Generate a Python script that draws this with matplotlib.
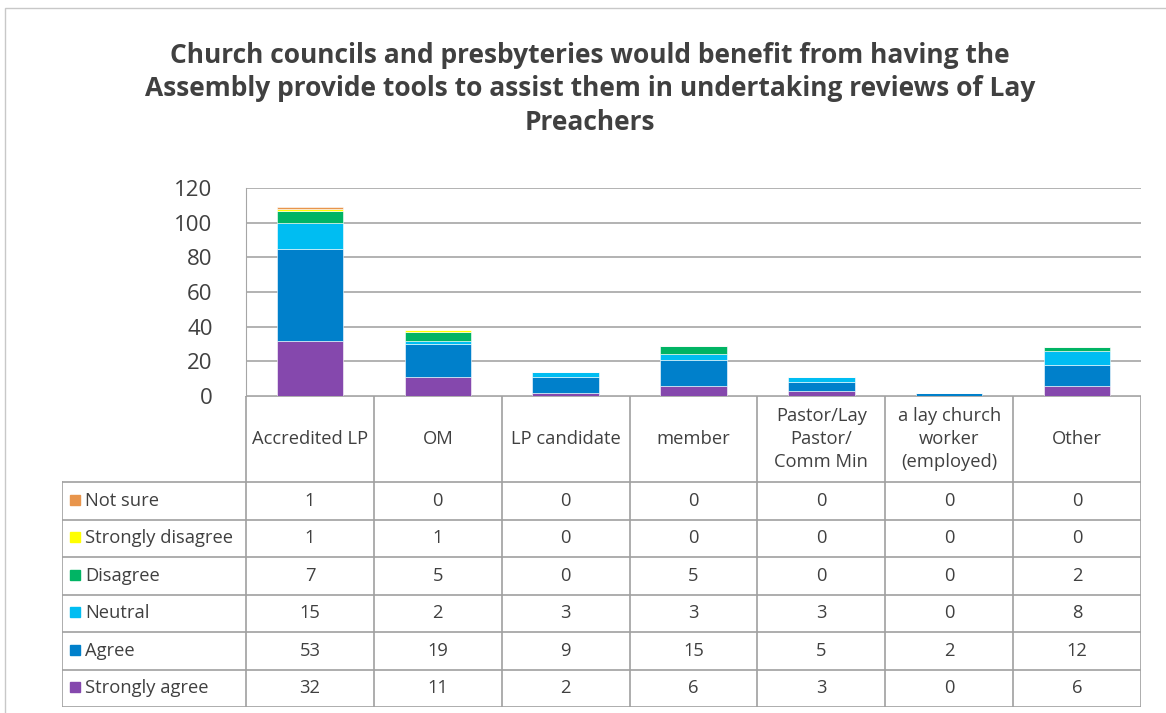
import matplotlib.pyplot as plt
import numpy as np

plt.rcParams['font.family'] = ['Open Sans', 'DejaVu Sans']

categories = ['Accredited LP', 'OM', 'LP candidate', 'member',
              'Pastor/Lay\nPastor/\nComm Min', 'a lay church\nworker\n(employed)', 'Other']
# stacked bottom to top
series = ['Strongly agree', 'Agree', 'Neutral', 'Disagree', 'Strongly disagree', 'Not sure']
strongly_agree = [32, 11, 2, 6, 3, 0, 6]
agree = [53, 19, 9, 15, 5, 2, 12]
neutral = [15, 2, 3, 3, 3, 0, 8]
disagree = [7, 5, 0, 5, 0, 0, 2]
strongly_disagree = [1, 1, 0, 0, 0, 0, 0]
not_sure = [1, 0, 0, 0, 0, 0, 0]
values = [strongly_agree, agree, neutral, disagree, strongly_disagree, not_sure]
colors = ['#8548ad', '#0080cb', '#00bdf2', '#00b464', '#ffff00', '#e8954c']

W, H = 1166, 713
fig = plt.figure(figsize=(W / 100, H / 100), dpi=100)

# outer chart border
fig.patches.append(plt.Rectangle((5 / W, -0.1), 1.2, (H - 8) / H + 0.1, transform=fig.transFigure,
                                 fill=False, edgecolor='#c8c8c8', linewidth=1))

fig.text(590 / W, 1 - 89 / H, 'Church councils and presbyteries would benefit from having the\n'
         'Assembly provide tools to assist them in undertaking reviews of Lay\nPreachers',
         ha='center', va='center', fontsize=19, fontweight='bold', color='#404040',
         linespacing=1.3)

x0, x1, ytop, ybot = 246, 1141, 188, 396
ax = fig.add_axes([x0 / W, 1 - ybot / H, (x1 - x0) / W, (ybot - ytop) / H])
x = np.arange(len(categories))
bottom = np.zeros(len(categories))
for vals, c in zip(values, colors):
    ax.bar(x, vals, 0.52, bottom=bottom, color=c, edgecolor='white', linewidth=0.4, zorder=3)
    bottom += np.array(vals)
ax.set_xlim(-0.5, len(categories) - 0.5)
ax.set_ylim(0, 120)
ax.set_yticks(range(0, 121, 20))
ax.yaxis.grid(True, color='#a6a6a6', linewidth=1.2)
ax.set_axisbelow(True)
for s in ['top', 'right', 'bottom']:
    ax.spines[s].set_visible(False)
ax.spines['left'].set_color('#a6a6a6')
ax.tick_params(axis='y', length=0, labelsize=16, labelcolor='#404040', pad=24)
ax.set_xticks([])

# data table below the plot
col_w = (x1 - x0) / len(categories)
tab_left = 62
tax = fig.add_axes([tab_left / W, 1 - 707 / H, (x1 - tab_left) / W, (707 - ybot) / H])
tax.set_xlim(-0.5 - (x0 - tab_left) / col_w, len(categories) - 0.5)
tax.set_ylim(707, ybot)
tax.axis('off')
lc = '#a0a0a0'
row_edges = np.linspace(482, 707, 7)
# header row
tax.plot([-0.5, len(categories) - 0.5], [ybot, ybot], color=lc, lw=1.2)
for i in range(len(categories) + 1):
    tax.plot([i - 0.5, i - 0.5], [ybot, 707], color=lc, lw=1.2)
left_x = -0.5 - (x0 - tab_left) / col_w
tax.plot([left_x, left_x], [482, 707], color=lc, lw=1.2)
for y in row_edges:
    tax.plot([left_x, len(categories) - 0.5], [y, y], color=lc, lw=1.2)
for i, cat in enumerate(categories):
    tax.text(i, (ybot + 482) / 2, cat, ha='center', va='center', fontsize=13.2,
             color='#404040', linespacing=1.35)
# rows top to bottom
for r, (name, vals, c) in enumerate(zip(series[::-1], values[::-1], colors[::-1])):
    yc = (row_edges[r] + row_edges[r + 1]) / 2
    tax.add_patch(plt.Rectangle((left_x + 8 / col_w, yc - 6), 10 / col_w, 10, color=c, clip_on=False))
    tax.text(left_x + 23 / col_w, yc, name, ha='left', va='center', fontsize=13.2, color='#404040')
    for i, v in enumerate(vals):
        tax.text(i, yc, str(v), ha='center', va='center', fontsize=13.2, color='#404040')

fig.savefig('out.png', dpi=100)
